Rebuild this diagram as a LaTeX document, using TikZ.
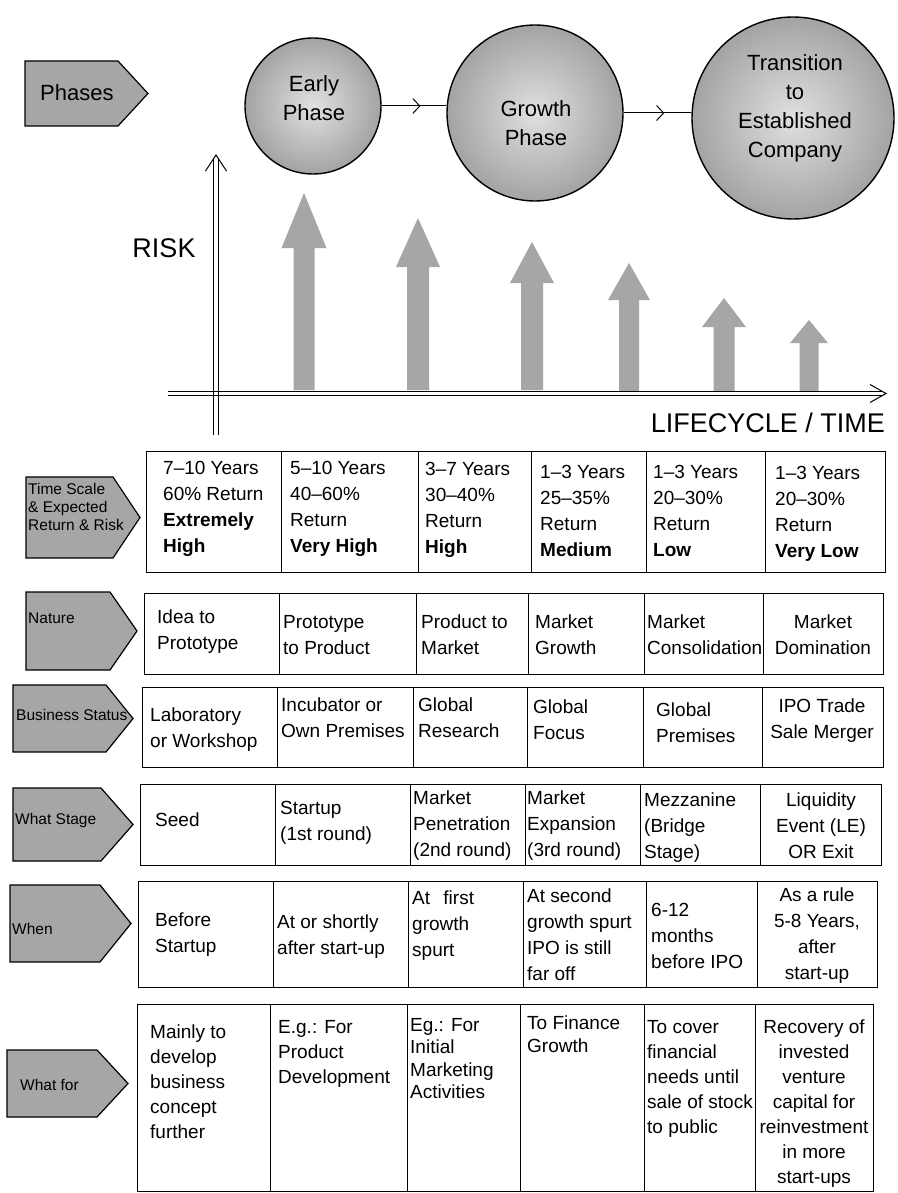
\documentclass[tikz,border=0pt]{standalone}
\usepackage{fontspec}
\setmainfont{Liberation Sans}
\usetikzlibrary{arrows.meta,decorations.markings,calc}
\newcommand\mkrow[4]{\foreach \xa/\xb [count=\ci] in {#4} {\node[cellbox, minimum width={\xb-\xa}, minimum height={#3-#2}] (#1c\ci) at (\xa,#2) {};}}
\newcommand\riskarrow[6]{\fill[riskarr] (#1-#6,#4) -- (#1-#6,#3) -- (#1-#5,#3) -- (#1,#2) -- (#1+#5,#3) -- (#1+#6,#3) -- (#1+#6,#4) -- cycle;}
\newcommand\labpent[5]{\draw[labshape] (#1,#2) -- (#3,#2) -- (#4,{(#2+#5)/2}) -- (#3,#5) -- (#1,#5) -- cycle;}
\tikzset{
  cellbox/.style={draw, line width=1.2pt, inner sep=0pt, anchor=north west},
  ct/.style={inner sep=0pt, anchor=north west, align=left, font=\fontsize{19}{26}\selectfont},
  cc/.style={inner sep=0pt, anchor=north, align=center, font=\fontsize{19}{26}\selectfont},
  labshape/.style={draw, line width=1.2pt, fill=black!35},
  labtxt/.style={inner sep=0pt, align=left, font=\fontsize{15.5}{18}\selectfont},
  phase/.style={circle, draw, line width=1.4pt, inner color=black!12, outer color=black!36, inner sep=0pt},
  phtxt/.style={align=center, inner sep=0pt, font=\fontsize{22}{29}\selectfont},
  riskarr/.style={fill=black!35},
  axisline/.style={line width=1pt},
  conn/.style={line width=1pt, postaction={decorate},
    decoration={markings, mark=at position 0.6 with {\arrow{Straight Barb[length=7pt,width=15pt,line width=1pt]}}}},
  bigtxt/.style={inner sep=0pt, font=\fontsize{27}{27}\selectfont}
}
\begin{document}
\begin{tikzpicture}[x=1pt,y=-1pt]
\fill[white] (0,0) rectangle (897,1193);
\useasboundingbox (0,0) rectangle (897,1193);

% Phases label
\labpent{25}{61}{118}{148}{126}
\node[inner sep=0pt, anchor=west, font=\fontsize{22}{22}\selectfont] (phasesT) at (40,93) {Phases};

% phase circles
\node[phase, minimum size=136pt] (early) at (313,106) {};
\node[phase, minimum size=176pt] (growth) at (535,113) {};
\node[phase, minimum size=202pt] (trans) at (793,118) {};
\node[phtxt] (earlyT) at (314,98) {Early\\Phase};
\node[phtxt] (growthT) at (536,123) {Growth\\Phase};
\node[phtxt] (transT) at (795,108) {Transition\\to\\Established\\Company};
\draw[conn] (early.east) -- (early.east -| growth.west);
\draw[conn] (growth.east) -- (growth.east -| trans.west);

% risk arrows
\riskarrow{304}{193}{248}{390}{22.5}{10.5}
\riskarrow{418}{218}{267}{390}{22}{11}
\riskarrow{532}{242}{283}{390}{22}{11}
\riskarrow{629}{263}{300}{391}{21}{10}
\riskarrow{724}{298}{327}{391}{22}{10.5}
\riskarrow{809}{320}{343}{391}{19}{9.5}

% axes
\coordinate (vb) at (216,435);
\coordinate (vt) at (216,155);
\draw[axisline] ($(vb)+(-2.3,0)$) -- ($(vt)+(-2.3,3)$);
\draw[axisline] ($(vb)+(2.3,0)$) -- ($(vt)+(2.3,3)$);
\draw[axisline] ($(vt)+(-10.5,16)$) -- (vt) -- ($(vt)+(10.5,16)$);
\coordinate (hl) at (168,393.5);
\coordinate (hr) at (886,393.5);
\draw[axisline] ($(hl)+(0,-2.3)$) -- ($(hr)+(-3,-2.3)$);
\draw[axisline] ($(hl)+(0,2.3)$) -- ($(hr)+(-3,2.3)$);
\draw[axisline] ($(hr)+(-16,-9)$) -- (hr) -- ($(hr)+(-16,9)$);
\node[bigtxt] (risk) at (164,248) {RISK};
\node[bigtxt, anchor=east] (lifecycle) at (885,423) {LIFECYCLE / TIME};

% row labels
\labpent{26}{477}{113}{140}{558}
\node[labtxt, anchor=north west] (lab1T) at (28,483) {Time Scale\\\& Expected\\Return \& Risk};
\labpent{26}{592}{110}{137}{670}
\node[labtxt, anchor=west] (lab2T) at (28,618) {Nature};
\labpent{13}{685}{106}{133}{752}
\node[labtxt, anchor=west] (lab3T) at (16,715) {Business Status};
\labpent{13}{788}{101}{133}{861}
\node[labtxt, anchor=west] (lab4T) at (15,820) {What Stage};
\labpent{10}{885}{100}{131}{962}
\node[labtxt, anchor=west] (lab5T) at (12,929) {When};
\labpent{7}{1050}{97}{128}{1117}
\node[labtxt, anchor=west] (lab6T) at (20,1085) {What for};

% table cells
\mkrow{r1}{451}{572}{146/281,281/418,418/531,531/646,646/765,765/885}
\mkrow{r2}{593}{674}{144/279,279/416,416/528,528/644,644/763,763/883}
\mkrow{r3}{687}{767}{142/277,277/413,413/527,527/643,643/762,762/883}
\mkrow{r4}{784}{865}{140/275,275/410,410/525,525/640,640/760,760/881}
\mkrow{r5}{881}{987}{138/273,273/408,408/523,523/646,646/757,757/877}
\mkrow{r6}{1004}{1191}{137/270,270/407,407/520,520/644,644/755,755/873}

% row 1
\node[ct] (t1c1) at (163,461) {7--10 Years\\60\% Return\\\textbf{Extremely}\\\textbf{High}};
\node[ct] (t1c2) at (290,461) {5--10 Years\\40--60\%\\Return\\\textbf{Very High}};
\node[ct] (t1c3) at (425,462) {3--7 Years\\30--40\%\\Return\\\textbf{High}};
\node[ct] (t1c4) at (540,465) {1--3 Years\\25--35\%\\Return\\\textbf{Medium}};
\node[ct] (t1c5) at (653,465) {1--3 Years\\20--30\%\\Return\\\textbf{Low}};
\node[ct] (t1c6) at (775,466) {1--3 Years\\20--30\%\\Return\\\textbf{Very Low}};

% row 2
\node[ct] (t2c1) at (157,610) {Idea to\\Prototype};
\node[ct] (t2c2) at (283,615) {Prototype\\to Product};
\node[ct] (t2c3) at (421,615) {Product to\\Market};
\node[ct] (t2c4) at (535,615) {Market\\Growth};
\node[ct] (t2c5) at (647,615) {Market\\Consolidation};
\node[cc] (t2c6) at (823,615) {Market\\Domination};

% row 3
\node[ct] (t3c1) at (150,708) {Laboratory\\or Workshop};
\node[ct] (t3c2) at (281,698) {Incubator or\\Own Premises};
\node[ct] (t3c3) at (418,698) {Global\\Research};
\node[ct] (t3c4) at (533,700) {Global\\Focus};
\node[ct] (t3c5) at (656,703) {Global\\Premises};
\node[cc] (t3c6) at (822,699) {IPO Trade\\Sale Merger};

% row 4
\node[ct, anchor=west] (t4c1) at (155,820) {Seed};
\node[ct] (t4c2) at (280,801) {Startup\\(1st round)};
\node[ct] (t4c3) at (413,791) {Market\\Penetration\\(2nd round)};
\node[ct] (t4c4) at (527,791) {Market\\Expansion\\(3rd round)};
\node[ct] (t4c5) at (644,793) {Mezzanine\\(Bridge\\Stage)};
\node[cc] (t4c6) at (821,793) {Liquidity\\Event (LE)\\OR Exit};

% row 5
\node[ct] (t5c1) at (155,913) {Before\\Startup};
\node[ct] (t5c2) at (277,915) {At or shortly\\after start-up};
\node[ct] (t5c3) at (412,891) {At\hspace{0.7em}first\\growth\\spurt};
\node[ct] (t5c4) at (527,889) {At second\\growth spurt\\IPO is still\\far off};
\node[ct] (t5c5) at (651,903) {6-12\\months\\before IPO};
\node[cc] (t5c6) at (817,888) {As a rule\\5-8 Years,\\after\\start-up};

% row 6
\node[ct, font=\fontsize{19}{25}\selectfont] (t6c1) at (150,1025) {Mainly to\\develop\\business\\concept\\further};
\node[ct, font=\fontsize{19}{25}\selectfont] (t6c2) at (278,1020) {E.g.: For\\Product\\Development};
\node[ct, font=\fontsize{19}{22.5}\selectfont] (t6c3) at (410,1018) {Eg.: For\\Initial\\Marketing\\Activities};
\node[ct, font=\fontsize{19}{22.5}\selectfont] (t6c4) at (527,1016) {To Finance\\Growth};
\node[ct, font=\fontsize{19}{25}\selectfont] (t6c5) at (647,1020) {To cover\\financial\\needs until\\sale of stock\\to public};
\node[cc, font=\fontsize{19}{25}\selectfont] (t6c6) at (814,1020) {Recovery of\\invested\\venture\\capital for\\reinvestment\\in more\\start-ups};
\end{tikzpicture}
\end{document}
